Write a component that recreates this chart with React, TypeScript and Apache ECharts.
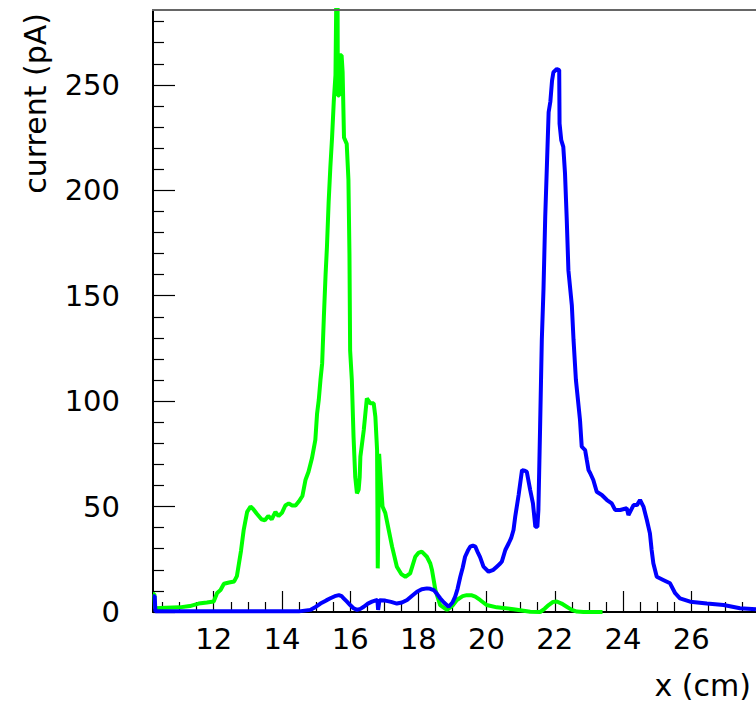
import React, { useEffect, useRef } from "react";
import * as echarts from "echarts";

// ---- data ----
const greenX = [10.22, 10.26, 10.28, 10.6, 11.0, 11.3, 11.56, 11.8, 12.0, 12.1, 12.2, 12.3, 12.45, 12.6, 12.68, 12.75, 12.8, 12.88, 12.98, 13.08, 13.15, 13.27, 13.4, 13.5, 13.6, 13.7, 13.81, 13.9, 14.0, 14.1, 14.2, 14.3, 14.4, 14.5, 14.6, 14.69, 14.78, 14.88, 14.98, 15.03, 15.08, 15.13, 15.18, 15.23, 15.28, 15.32, 15.37, 15.42, 15.47, 15.52, 15.57, 15.6, 15.63, 15.64, 15.68, 15.7, 15.75, 15.78, 15.82, 15.9, 15.95, 15.98, 16.0, 16.05, 16.1, 16.15, 16.2, 16.25, 16.28, 16.3, 16.4, 16.49, 16.59, 16.69, 16.74, 16.79, 16.81, 16.83, 16.85, 16.9, 16.95, 17.03, 17.13, 17.23, 17.37, 17.5, 17.62, 17.76, 17.91, 18.0, 18.1, 18.25, 18.35, 18.4, 18.5, 18.64, 18.84, 19.0, 19.13, 19.3, 19.42, 19.55, 19.67, 19.81, 20.0, 20.3, 20.79, 21.28, 21.57, 21.7, 21.82, 21.95, 22.06, 22.2, 22.35, 22.5, 22.65, 22.84, 23.4];
const greenY = [8.5, 8.5, 1.8, 2.0, 2.2, 2.8, 4.0, 4.5, 5.0, 9.0, 10.4, 13.4, 14.0, 14.5, 17, 24, 29, 39, 47.5, 50, 49, 46.5, 44, 43.5, 45.5, 44, 47.5, 45.5, 47, 50.5, 51.5, 50.5, 50.5, 52.5, 55, 62.6, 66.5, 72.9, 81.6, 94, 100.5, 110, 118, 140, 160, 173, 194.5, 211, 225, 242, 254.6, 300, 300, 245, 245, 264, 264, 256, 225, 222, 205, 170, 124, 110, 83, 64, 56.3, 58, 64, 73.6, 86.3, 101.3, 99, 99, 92.6, 76.8, 20.7, 20.7, 75, 62, 50, 47, 39, 31, 21.5, 18, 16.7, 18.3, 26.2, 28, 28.6, 26.2, 23, 19.9, 10.4, 3.3, 1, 3, 5.7, 7.5, 8, 8, 7.3, 5.7, 3.3, 2.2, 1.3, 0.1, 0, 1.5, 3.3, 4.8, 5, 4, 2.5, 1, 0.2, 0, 0];

const blueX = [10.22, 10.27, 10.29, 14.5, 14.83, 15.0, 15.13, 15.3, 15.42, 15.55, 15.67, 15.75, 15.81, 15.9, 16.0, 16.1, 16.2, 16.3, 16.4, 16.52, 16.64, 16.75, 16.8, 16.82, 16.84, 16.86, 17.03, 17.2, 17.37, 17.52, 17.67, 17.8, 17.96, 18.1, 18.25, 18.35, 18.45, 18.55, 18.64, 18.75, 18.89, 19.0, 19.08, 19.15, 19.23, 19.3, 19.37, 19.45, 19.52, 19.6, 19.67, 19.75, 19.81, 19.91, 20.06, 20.2, 20.3, 20.4, 20.45, 20.55, 20.65, 20.72, 20.79, 20.84, 20.94, 21.04, 21.12, 21.18, 21.28, 21.36, 21.43, 21.49, 21.52, 21.57, 21.62, 21.67, 21.72, 21.77, 21.82, 21.87, 21.92, 21.96, 22.06, 22.13, 22.14, 22.19, 22.25, 22.3, 22.35, 22.4, 22.5, 22.55, 22.62, 22.74, 22.79, 22.89, 22.94, 22.99, 23.04, 23.13, 23.23, 23.38, 23.53, 23.67, 23.77, 23.92, 24.11, 24.16, 24.31, 24.41, 24.5, 24.6, 24.7, 24.79, 24.84, 24.89, 24.99, 25.18, 25.38, 25.53, 25.67, 25.97, 26.46, 26.95, 27.43, 27.9];
const blueY = [7.5, 7.5, 0.3, 0.3, 1, 2.5, 4, 5.5, 6.5, 7.5, 8, 7.5, 6.5, 5, 3.3, 1.8, 1, 1.5, 2.5, 4, 4.9, 5.5, 5.7, 1, 1, 5.6, 5.4, 4.8, 4, 4.5, 5.7, 7.5, 9.6, 10.8, 11.2, 11, 10.4, 8.5, 6.5, 4.5, 2.5, 4.5, 7.3, 11, 16.7, 21, 26.2, 29, 31, 31.5, 31, 28, 26, 21.5, 19.1, 20, 21.5, 23, 24, 29.4, 32.6, 35, 38.9, 45.2, 55.5, 67.3, 67, 66.5, 57.8, 51.5, 40.4, 40.4, 48.4, 87.9, 129, 153.5, 187.4, 212, 237, 242, 252, 256, 257.5, 257, 231.7, 223.8, 220.6, 208, 186.7, 162, 145.5, 129, 110, 91, 78.4, 76.8, 72, 67.3, 65.8, 62.6, 57, 55.5, 53.1, 51.5, 48.4, 48.4, 49.2, 46, 50.7, 50.7, 53.1, 50, 43.6, 37.3, 29.4, 23.1, 16.7, 15.2, 13.6, 8.9, 6.5, 4.9, 4, 3.3, 1.8, 1.3];

const xMajorTicks = [12, 14, 16, 18, 20, 22, 24, 26];
const xMinorTicks = [10.5, 11, 11.5, 12.5, 13, 13.5, 14.5, 15, 15.5, 16.5, 17, 17.5, 18.5, 19, 19.5, 20.5, 21, 21.5, 22.5, 23, 23.5, 24.5, 25, 25.5, 26.5, 27, 27.5];
const yMajorTicks = [0, 50, 100, 150, 200, 250];
const yMinorTicks = [10, 20, 30, 40, 60, 70, 80, 90, 110, 120, 130, 140, 160, 170, 180, 190, 210, 220, 230, 240, 260, 270, 280];

const X_MIN = 10.22;
const X_MAX = 27.9;
const Y_MIN = 0;
const Y_MAX = 285.5;

const FONT = '"DejaVu Sans", "Liberation Sans", sans-serif';

export default function App() {
  const ref = useRef<HTMLDivElement>(null);
  useEffect(() => {
    if (!ref.current) return;
    const chart = echarts.init(ref.current, undefined, { renderer: "svg" });
    const axisCommon = { min: X_MIN, max: X_MAX, type: "value" as const };
    const option: any = {
      animation: false,
      backgroundColor: "#ffffff",
      grid: { left: 153, right: 0, top: 10, bottom: 90, containLabel: false, outerBoundsMode: "none" },
      xAxis: [
        {
          ...axisCommon,
          position: "bottom",
          axisLine: { show: true, onZero: false, lineStyle: { color: "#000", width: 2 } },
          axisTick: { show: true, inside: true, length: 21, customValues: xMajorTicks, lineStyle: { color: "#000", width: 1.2 } },
          axisLabel: { show: true, customValues: xMajorTicks, fontSize: 29, fontFamily: FONT, color: "#000", margin: 12 },
          splitLine: { show: false },
        },
        {
          ...axisCommon,
          position: "bottom",
          axisLine: { show: false, onZero: false },
          axisTick: { show: true, inside: true, length: 10, customValues: xMinorTicks, lineStyle: { color: "#000", width: 1.2 } },
          axisLabel: { show: false },
          splitLine: { show: false },
        },
      ],
      yAxis: [
        {
          type: "value",
          min: Y_MIN,
          max: Y_MAX,
          position: "left",
          axisLine: { show: true, onZero: false, lineStyle: { color: "#000", width: 2 } },
          axisTick: { show: true, inside: true, length: 22, customValues: yMajorTicks, lineStyle: { color: "#000", width: 1.2 } },
          axisLabel: { show: true, customValues: yMajorTicks, fontSize: 29, fontFamily: FONT, color: "#000", margin: 33 },
          splitLine: { show: false },
        },
        {
          type: "value",
          min: Y_MIN,
          max: Y_MAX,
          position: "left",
          axisLine: { show: false, onZero: false },
          axisTick: { show: true, inside: true, length: 11, customValues: yMinorTicks, lineStyle: { color: "#000", width: 1.2 } },
          axisLabel: { show: false },
          splitLine: { show: false },
        },
      ],
      series: [
        {
          type: "line",
          name: "green",
          xAxisIndex: 0,
          yAxisIndex: 0,
          data: greenX.map((x, i) => [x, greenY[i]]),
          showSymbol: false,
          symbol: "none",
          clip: true,
          lineStyle: { color: "#00ff00", width: 4 },
          z: 2,
        },
        {
          type: "line",
          name: "blue",
          xAxisIndex: 0,
          yAxisIndex: 0,
          data: blueX.map((x, i) => [x, blueY[i]]),
          showSymbol: false,
          symbol: "none",
          clip: true,
          lineStyle: { color: "#0000ff", width: 4 },
          z: 3,
        },
      ],
      graphic: [
        {
          type: "line",
          shape: { x1: 152, y1: 10, x2: 756, y2: 10 },
          style: { stroke: "#666666", lineWidth: 2 },
          z: 10,
        },
        {
          type: "text",
          x: 751,
          y: 685,
          style: { text: "x (cm)", align: "right", verticalAlign: "middle", fontSize: 30, fontFamily: FONT, fill: "#000" },
        },
        {
          type: "text",
          x: 35,
          y: 13,
          rotation: Math.PI / 2,
          style: { text: "current (pA)", align: "right", verticalAlign: "middle", fontSize: 30, fontFamily: FONT, fill: "#000" },
        },
      ],
    };
    chart.setOption(option);
    return () => chart.dispose();
  }, []);
  return (
    <div
      ref={ref}
      style={{ position: "fixed", left: 0, top: 0, width: 756, height: 702, background: "#fff" }}
    />
  );
}
